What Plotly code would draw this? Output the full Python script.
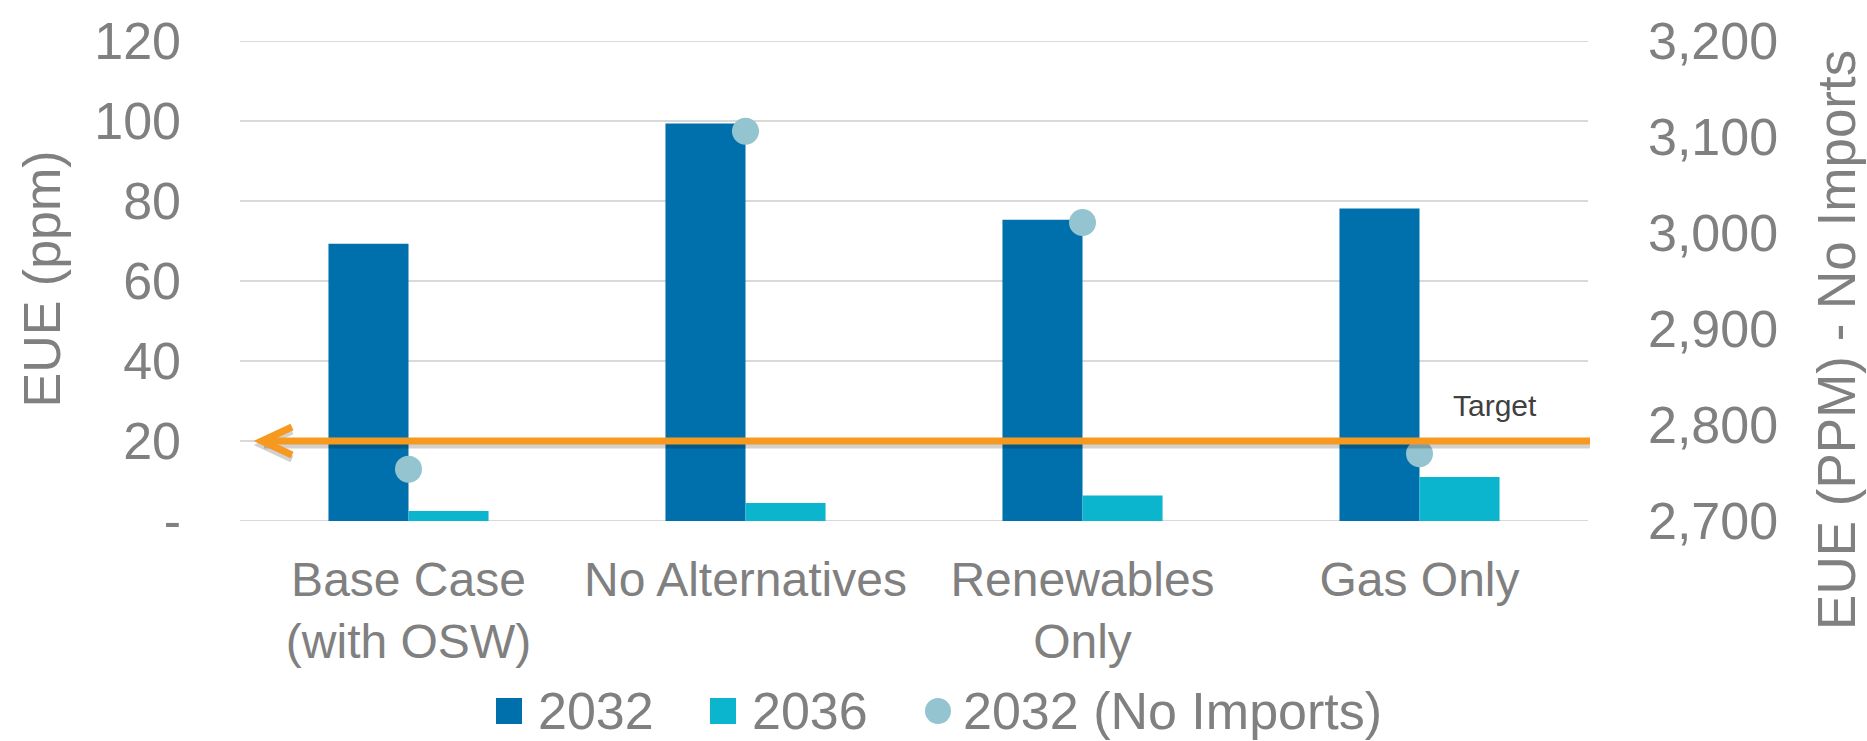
import plotly.graph_objects as go

# ---- data -------------------------------------------------------------
categories = ["Base Case<br>(with OSW)", "No Alternatives", "Renewables<br>Only", "Gas Only"]
series_names = ["2032", "2036", "2032 (No Imports)"]
eue_2032 = [69.3, 99.4, 75.3, 78.1]
eue_2036 = [2.5, 4.5, 6.4, 11.0]
eue_2032_no_imports = [2754, 3106, 3011, 2770]

left_ticks = [0, 20, 40, 60, 80, 100, 120]
left_tick_text = ["-", "20", "40", "60", "80", "100", "120"]
right_ticks = [2700, 2800, 2900, 3000, 3100, 3200]
target_eue = 20

# ---- styling ----------------------------------------------------------
FONT = "Liberation Sans, Arial, sans-serif"
GRAY = "#808080"
BLUE = "#0070AD"
CYAN = "#0CB5CE"
LIGHT = "#94C4D0"
ORANGE = "#F7991F"
GRID = "#D9D9D9"

W, H = 1867, 741
ML, MR, MT, MB = 240, 279, 36, 220
PW, PH = W - ML - MR, H - MT - MB


def px_x(px):
    """page pixel x -> paper coordinate"""
    return (px - ML) / PW


def px_y(py):
    """page pixel y -> paper coordinate"""
    return (H - MB - py) / PH


fig = go.Figure()
fig.add_trace(go.Bar(x=categories, y=eue_2032, name=series_names[0],
                     marker=dict(color=BLUE, line=dict(width=0)), showlegend=False))
fig.add_trace(go.Bar(x=categories, y=eue_2036, name=series_names[1],
                     marker=dict(color=CYAN, line=dict(width=0)), showlegend=False))
fig.add_trace(go.Scatter(x=categories, y=eue_2032_no_imports, name=series_names[2],
                         yaxis="y2", mode="markers",
                         marker=dict(color=LIGHT, size=27, line=dict(width=0)),
                         showlegend=False))

shapes = []
# gridlines sitting on the top and bottom edges of the plot area
for edge in (left_ticks[0], left_ticks[-1]):
    shapes.append(dict(type="line", xref="paper", x0=0, x1=1, yref="y", y0=edge, y1=edge,
                       line=dict(color=GRID, width=2), layer="below"))

# target line with soft shadow and open arrow head on the left
tip_x = px_x(262)
for dy, color, width in [(-4, "rgba(0,0,0,0.18)", 7), (0, ORANGE, 7)]:
    shapes.append(dict(type="line", xref="paper", x0=tip_x + 2 / PW, x1=px_x(1590),
                       yref="y", ysizemode="pixel", yanchor=target_eue, y0=dy, y1=dy,
                       line=dict(color=color, width=width), layer="above"))
    shapes.append(dict(type="path", xref="paper", xsizemode="pixel", xanchor=tip_x,
                       yref="y", ysizemode="pixel", yanchor=target_eue,
                       path=f"M 30 {14 + dy} L 0 {dy} L 30 {-14 + dy}",
                       line=dict(color=color, width=width), layer="above"))

# legend swatches
legend_y = px_y(713)
legend_items = [
    (series_names[0], "rect", BLUE, 509, 536),
    (series_names[1], "rect", CYAN, 723, 750),
    (series_names[2], "circle", LIGHT, 938, 961),
]
annotations = []
for name, kind, color, cx, tx in legend_items:
    shapes.append(dict(type=kind, xref="paper", xsizemode="pixel", xanchor=px_x(cx),
                       x0=-13, x1=13, yref="paper", ysizemode="pixel", yanchor=legend_y,
                       y0=-13, y1=13, fillcolor=color, line=dict(width=0)))
    annotations.append(dict(text=name, xref="paper", yref="paper", x=px_x(tx), y=legend_y,
                            xanchor="left", yanchor="middle", showarrow=False,
                            font=dict(family=FONT, size=52, color=GRAY)))

annotations += [
    dict(text="Target", xref="paper", x=px_x(1495), yref="y", y=target_eue, yshift=36,
         xanchor="center", yanchor="middle", showarrow=False,
         font=dict(family=FONT, size=30, color="#404040")),
    dict(text="EUE (ppm)", xref="paper", yref="paper", x=px_x(42), y=px_y(277),
         textangle=-90, xanchor="center", yanchor="middle", showarrow=False,
         font=dict(family=FONT, size=52, color=GRAY)),
    dict(text="EUE (PPM) - No Imports", xref="paper", yref="paper", x=px_x(1837), y=px_y(338),
         textangle=-90, xanchor="center", yanchor="middle", showarrow=False,
         font=dict(family=FONT, size=53, color=GRAY)),
]

fig.update_layout(
    width=W, height=H, autosize=False,
    margin=dict(l=ML, r=MR, t=MT, b=MB, pad=0),
    paper_bgcolor="white", plot_bgcolor="white",
    barmode="group", bargap=0.525, bargroupgap=0,
    font=dict(family=FONT, color=GRAY),
    showlegend=False,
    xaxis=dict(showgrid=False, showline=False, zeroline=False, ticks="",
               tickfont=dict(size=48, color=GRAY), ticklabelstandoff=26,
               range=[-0.5, 3.5]),
    yaxis=dict(range=[0, 120], tickvals=left_ticks, ticktext=left_tick_text,
               showgrid=True, gridcolor=GRID, gridwidth=2, zeroline=False,
               showline=False, ticks="", tickfont=dict(size=52, color=GRAY),
               ticklabelstandoff=58),
    yaxis2=dict(range=[2700, 3200], tickvals=right_ticks, tickformat=",",
                overlaying="y", side="right", showgrid=False, zeroline=False,
                showline=False, ticks="", tickfont=dict(size=52, color=GRAY),
                ticklabelstandoff=59),
    shapes=shapes,
    annotations=annotations,
)

fig.write_html("out.html")
